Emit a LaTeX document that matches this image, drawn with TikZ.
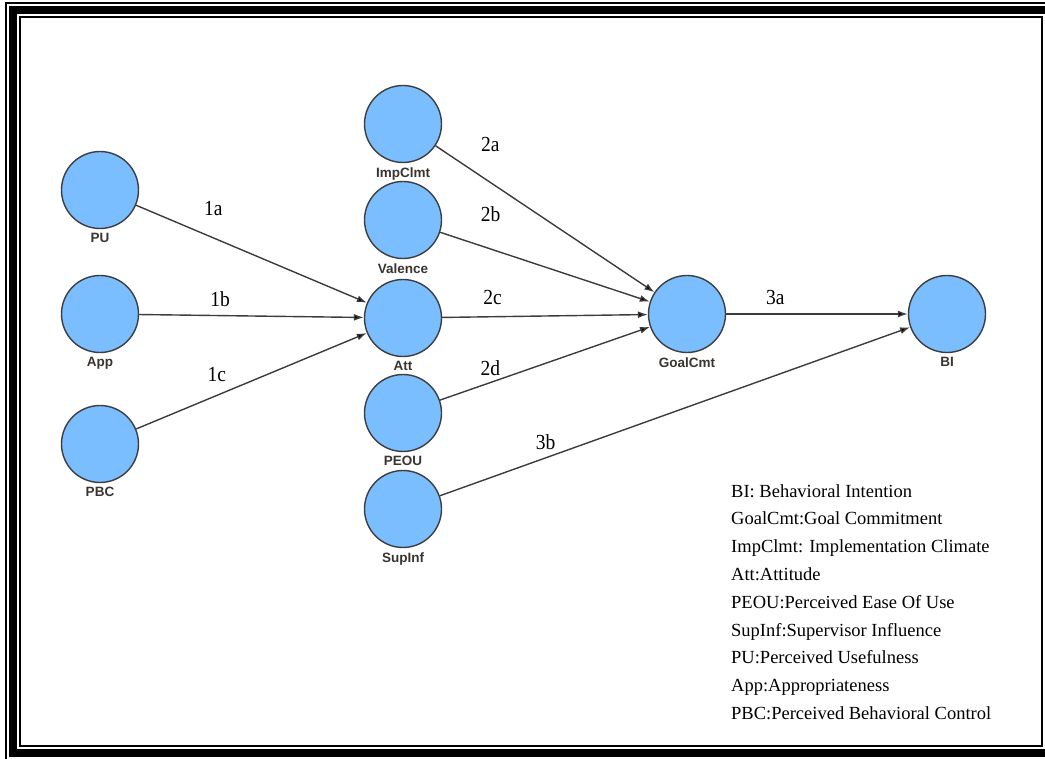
\documentclass[tikz,border=0pt]{standalone}
\usepackage{fontspec}
\setmainfont{Liberation Serif}
\setsansfont{Liberation Sans}
\usepackage{tikz}
\usetikzlibrary{positioning}
\usetikzlibrary{arrows.meta}
\usepackage{xcolor}
\definecolor{nodeblue}{RGB}{122,190,255}
\definecolor{rim}{RGB}{62,62,62}
\definecolor{edgegray}{RGB}{60,60,60}
\definecolor{tagtext}{RGB}{58,52,48}

\begin{document}
\begin{tikzpicture}[x=1pt, y=-1pt,
        v/.style={circle, draw=rim, line width=1.4pt, fill=nodeblue, minimum size=77pt, inner sep=0pt},
        tag/.style={label distance=4pt, text=tagtext, inner sep=0pt, font=\sffamily\bfseries\fontsize{13.5}{14}\selectfont},
        e/.style={draw=edgegray, line width=1.4pt, -{Latex[length=10pt, width=7pt]}},
        el/.style={inner sep=0pt, yscale=1.1, font=\fontsize{19.5}{21}\selectfont}]
        \useasboundingbox (0,0) rectangle (1045,759);
        \clip (0,0) rectangle (1045,759);

        % frame
        \draw[line width=2pt] (6,3) rectangle (1056,760);
        \draw[line width=8pt] (13,10) rectangle (1049,753);
        \draw[line width=2pt] (20,17) rectangle (1042,746);

        \node[v, label={[tag]below:PU}] (pu) at (100, 190) {};
        \node[v, label={[tag]below:App}] (app) at (100, 314) {};
        \node[v, label={[tag]below:PBC}] (pbc) at (100, 444) {};

        \node[v, label={[tag]below:ImpClmt}] (imp) at (403, 124) {};
        \node[v, label={[tag]below:Valence}] (val) at (403, 220) {};
        \node[v, label={[tag]below:Att}] (att) at (403, 318) {};
        \node[v, label={[tag]below:PEOU}] (peou) at (403, 413) {};
        \node[v, label={[tag]below:SupInf}] (sup) at (403, 509) {};

        \node[v, label={[tag]below:GoalCmt}] (goal) at (687, 314) {};
        \node[v, label={[tag]below:BI}] (bi) at (947, 314) {};

        \draw[e] (pu) edge node[el, pos=0.335, above=21pt] {1a} (att);
        \draw[e] (app) edge node[el, pos=0.36, above=8pt] {1b} (att);
        \draw[e] (pbc) edge node[el, pos=0.35, above=13pt] {1c} (att);

        \draw[e] (imp) edge node[el, pos=0.25, above=30pt] {2a} (goal);
        \draw[e] (val) edge node[el, pos=0.24, above=26pt] {2b} (goal);
        \draw[e] (att) edge node[el, pos=0.245, above=11pt] {2c} (goal);
        \draw[e] (peou) edge node[el, pos=0.24, above=6pt] {2d} (goal);

        \draw[e] (goal) edge node[el, pos=0.27, above=9pt] {3a} (bi);
        \draw[e] (sup) edge node[el, pos=0.225, above=7pt] {3b} (bi);

        \node[anchor=north west, align=left, inner sep=0pt, font=\fontsize{18.5}{27.8}\selectfont] (key) at (731, 484)
            {BI: Behavioral Intention\\
             GoalCmt:Goal Commitment\\
             ImpClmt: Implementation Climate\\
             Att:Attitude\\
             PEOU:Perceived Ease Of Use\\
             SupInf:Supervisor Influence\\
             PU:Perceived Usefulness\\
             App:Appropriateness\\
             PBC:Perceived Behavioral Control};
    \end{tikzpicture}
\end{document}
